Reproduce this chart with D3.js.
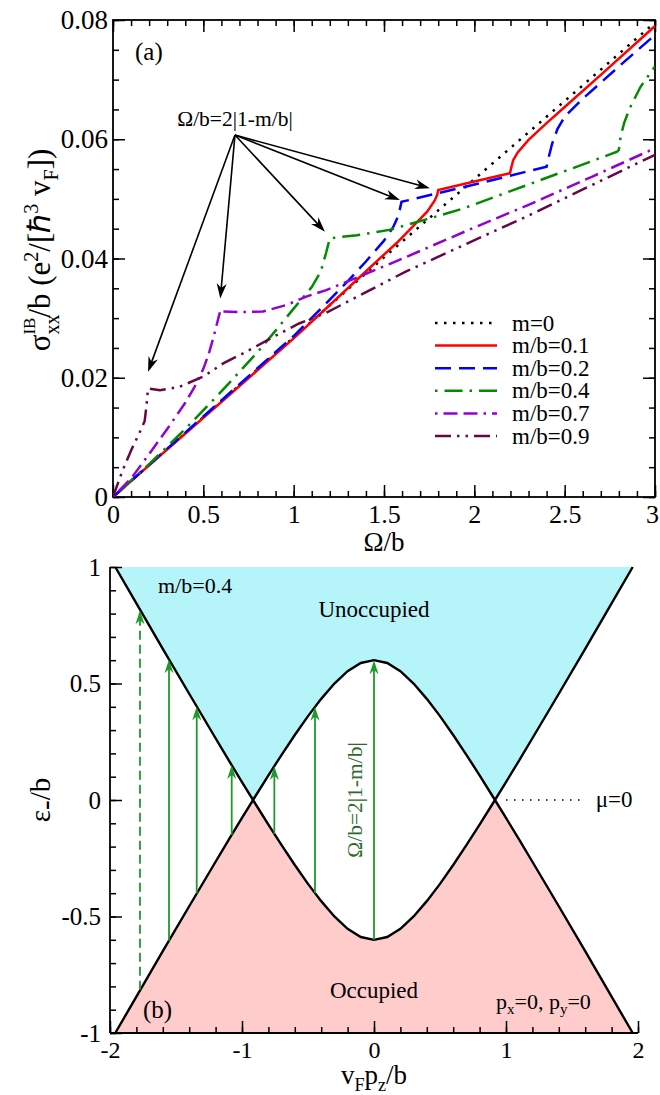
<!DOCTYPE html>
<html>
<head>
<meta charset="utf-8">
<script src="https://cdn.jsdelivr.net/npm/d3@7"></script>
<style>
body { margin: 0; background: #fff; }
svg text { font-family: "Liberation Serif", "Times New Roman", serif; fill: #000; }
</style>
</head>
<body>
<svg id="fig" width="660" height="1095"></svg>
<script>

// ---------- panel (a): sigma_xx^IB/b vs Omega/b, pairs [Omega/b, sigma] ----------
var labels_a = ["m=0", "m/b=0.1", "m/b=0.2", "m/b=0.4", "m/b=0.7", "m/b=0.9"];

var sig_m00 = [[0,0],[0.5,0.0134],[1,0.0268],[1.5,0.0402],[2,0.0533],[2.5,0.0664],[3,0.0796]];
var sig_m01 = [[0,0],[0.5,0.0133],[1,0.0266],[1.2,0.0322],[1.42,0.0384],[1.48,0.0401],[1.57,0.0426],
               [1.66,0.0454],[1.74,0.0479],[1.78,0.0497],[1.795,0.0507],[1.8,0.0515],[2.0,0.0529],
               [2.197,0.0543],[2.205,0.0553],[2.215,0.0565],[2.24,0.0578],[2.3,0.0599],[2.4,0.0627],
               [2.5,0.0654],[2.7,0.0708],[3,0.0790]];
var sig_m02 = [[0,0],[0.5,0.0135],[1,0.0270],[1.2,0.0331],[1.3,0.0362],[1.4,0.0395],[1.5,0.0430],
               [1.55,0.0452],[1.58,0.0472],[1.597,0.0495],[2.0,0.0524],[2.4,0.0554],[2.41,0.0568],
               [2.43,0.0592],[2.46,0.0617],[2.5,0.0638],[2.6,0.0668],[2.8,0.0722],[3,0.0775]];
var sig_m04 = [[0,0],[0.2,0.0055],[0.4,0.0114],[0.6,0.0177],[0.8,0.0243],[0.9,0.0279],[1.0,0.0316],
               [1.1,0.0352],[1.15,0.0378],[1.18,0.0410],[1.2,0.0434],[1.35,0.0439],[1.53,0.0448],
               [1.75,0.0467],[1.94,0.0484],[2.29,0.0523],[2.79,0.0579],[2.8,0.0582],[2.81,0.0605],
               [2.83,0.0628],[2.86,0.0652],[2.92,0.0688],[3,0.0722]];
var sig_m07 = [[0,0],[0.1,0.0031],[0.2,0.0072],[0.3,0.0114],[0.4,0.0158],[0.45,0.0184],[0.5,0.0215],
               [0.53,0.0240],[0.56,0.0272],[0.58,0.0296],[0.595,0.0314],[0.61,0.0311],[0.7,0.0310],
               [0.83,0.0311],[0.96,0.0322],[1.07,0.0336],[1.18,0.0347],[1.55,0.0393],[2.0,0.0452],
               [2.3,0.0490],[2.65,0.0537],[3,0.0585]];
var sig_m09 = [[0,0],[0.05,0.0042],[0.1,0.0078],[0.15,0.0110],[0.175,0.0127],[0.185,0.0152],
               [0.194,0.0182],[0.26,0.0179],[0.37,0.0185],[0.5,0.0202],[0.61,0.0224],[0.74,0.0244],
               [0.89,0.0269],[1.03,0.0291],[1.18,0.0309],[1.62,0.0378],[2.3,0.0472],[3,0.0574]];

var series_a = [sig_m00, sig_m01, sig_m02, sig_m04, sig_m07, sig_m09];

var xticks_a = [0, 0.5, 1, 1.5, 2, 2.5, 3];
var yticks_a = [0, 0.02, 0.04, 0.06, 0.08];

// annotation arrows of panel (a): common start, tips near each kink
var ann_text_a = "\u03a9/b=2|1-m/b|";
var ann_from_a = [0.675, 0.0607];
var ann_tips_a = [[0.194,0.0210],[0.594,0.0333],[1.173,0.0445],[1.588,0.0498],[1.754,0.0518]];

// ---------- panel (b): band edges for m/b=0.4, px=py=0 ----------
var pz_band  = [-1.96,-1.8,-1.6,-1.4,-1.2,-1.1,-1.0,-0.9165,-0.9,-0.8,-0.7,-0.6,-0.5,-0.4,-0.3,-0.2,-0.1,0,
                0.1,0.2,0.3,0.4,0.5,0.6,0.7,0.8,0.9,0.9165,1.0,1.1,1.2,1.4,1.6,1.8,1.96];
var eps_band = [1.0,0.844,0.649,0.456,0.265,0.170,0.077,0,0.015,0.106,0.194,0.279,0.360,0.434,0.5,0.553,0.588,0.6,
                0.588,0.553,0.5,0.434,0.360,0.279,0.194,0.106,0.015,0,0.077,0.170,0.265,0.456,0.649,0.844,1.0];

// vertical transitions: pz and |eps| reached at the upper band
var pz_trans  = [-1.773, -1.553, -1.343, -1.078, -0.755, -0.447, 0];
var eps_trans = [0.814, 0.604, 0.401, 0.150, 0.146, 0.400, 0.600];

var xticks_b = [-2, -1, 0, 1, 2];
var yticks_b = [-1, -0.5, 0, 0.5, 1];
var mu_line = [1.0, 1.6];

// ---------- styles ----------
var colors_a = ["#000000", "#ff0000", "#0000ff", "#008b00", "#9400d3", "#670748"];
var dashes_a = ["2.5,6.5", null, "16,8", "2.5,7,18,7", "2.5,6,14,6,14,6", "16,6,2.5,6,2.5,6"];
var green_b = "#1f9a2a";
var dashed_trans = [true, false, false, false, false, false, false];

var FONT = '"Liberation Serif","Times New Roman",serif';
var svg = d3.select("#fig");

function styleAxis(g, fs){
    g.select(".domain").remove();
    g.attr("font-family", null).attr("font-size", null);
    g.selectAll("line").attr("stroke", "#000").attr("stroke-width", 1.5);
    g.selectAll("text").style("font-size", fs + "px").attr("fill", "#000");
}

function arrowHead(g, x1, y1, x2, y2, len, wid, color){
    var ang = Math.atan2(y2 - y1, x2 - x1) * 180 / Math.PI;
    g.append("path")
        .attr("d", "M0,0 L" + (-len) + "," + (-wid/2) + " L" + (-len*0.7) + ",0 L" + (-len) + "," + (wid/2) + " Z")
        .attr("fill", color)
        .attr("transform", "translate(" + x2 + "," + y2 + ") rotate(" + ang + ")");
}

// =================== panel (a) ===================
var xA = d3.scaleLinear().domain([0, 3]).range([113, 655]);
var yA = d3.scaleLinear().domain([0, 0.08]).range([497, 20]);

svg.append("clipPath").attr("id", "clipA").append("rect")
    .attr("x", 113).attr("y", 20).attr("width", 542).attr("height", 477);

var gA = svg.append("g");
var minorXa = d3.range(0, 30.5, 1).map(function(d){ return d / 10; });
var minorYa = d3.range(0, 16.5, 1).map(function(d){ return d * 0.005; });

gA.append("g").attr("transform", "translate(0," + yA(0) + ")")
    .call(d3.axisBottom(xA).tickValues(minorXa).tickSize(-6).tickFormat(""))
    .call(function(g){ styleAxis(g, 26); });
gA.append("g").attr("transform", "translate(0," + yA(0) + ")")
    .call(d3.axisBottom(xA).tickValues(xticks_a).tickSize(-12).tickPadding(8).tickFormat(function(d){ return String(d); }))
    .call(function(g){
        styleAxis(g, 26);
        // last label sits on the page edge; nudge it in a little
        g.selectAll("text").filter(function(d){ return d === 3; }).attr("dx", -3);
    });
gA.append("g").attr("transform", "translate(0," + yA(0.08) + ")")
    .call(d3.axisTop(xA).tickValues(minorXa).tickSize(-6).tickFormat(""))
    .call(function(g){ styleAxis(g, 26); });
gA.append("g").attr("transform", "translate(0," + yA(0.08) + ")")
    .call(d3.axisTop(xA).tickValues(xticks_a).tickSize(-12).tickFormat(""))
    .call(function(g){ styleAxis(g, 26); });

gA.append("g").attr("transform", "translate(" + xA(0) + ",0)")
    .call(d3.axisLeft(yA).tickValues(minorYa).tickSize(-6).tickFormat(""))
    .call(function(g){ styleAxis(g, 26); });
gA.append("g").attr("transform", "translate(" + xA(0) + ",0)")
    .call(d3.axisLeft(yA).tickValues(yticks_a).tickSize(-12).tickPadding(5).tickFormat(function(d){ return String(d); }))
    .call(function(g){ styleAxis(g, 27); });
gA.append("g").attr("transform", "translate(" + xA(3) + ",0)")
    .call(d3.axisRight(yA).tickValues(minorYa).tickSize(-6).tickFormat(""))
    .call(function(g){ styleAxis(g, 26); });
gA.append("g").attr("transform", "translate(" + xA(3) + ",0)")
    .call(d3.axisRight(yA).tickValues(yticks_a).tickSize(-12).tickFormat(""))
    .call(function(g){ styleAxis(g, 26); });

gA.append("rect")
    .attr("x", xA(0)).attr("y", yA(0.08))
    .attr("width", xA(3) - xA(0)).attr("height", yA(0) - yA(0.08))
    .attr("fill", "none").attr("stroke", "#000").attr("stroke-width", 1.8);

var lineA = d3.line().x(function(d){ return xA(d[0]); }).y(function(d){ return yA(d[1]); });
var curvesA = gA.append("g").attr("clip-path", "url(#clipA)");
series_a.forEach(function(s, i){
    curvesA.append("path")
        .attr("d", lineA(s))
        .attr("fill", "none")
        .attr("stroke", colors_a[i])
        .attr("stroke-width", 2.5)
        .attr("stroke-dasharray", dashes_a[i]);
});

// legend
var leg = gA.append("g");
labels_a.forEach(function(lab, i){
    var y = 323 + i * 22.6;
    leg.append("line").attr("x1", 435).attr("x2", 497).attr("y1", y).attr("y2", y)
        .attr("stroke", colors_a[i]).attr("stroke-width", 2.5).attr("stroke-dasharray", dashes_a[i]);
    leg.append("text").attr("x", 512).attr("y", y).attr("dy", "0.33em")
        .style("font-size", "23px").text(lab);
});

// annotation arrows
var ann = gA.append("g");
var ax0 = xA(ann_from_a[0]), ay0 = yA(ann_from_a[1]);
ann_tips_a.forEach(function(t){
    var x2 = xA(t[0]), y2 = yA(t[1]);
    var dx = x2 - ax0, dy = y2 - ay0, L = Math.sqrt(dx*dx + dy*dy);
    var back = 10;
    ann.append("line").attr("x1", ax0).attr("y1", ay0)
        .attr("x2", x2 - dx / L * back).attr("y2", y2 - dy / L * back)
        .attr("stroke", "#000").attr("stroke-width", 1.6);
    arrowHead(ann, ax0, ay0, x2, y2, 15, 10, "#000");
});
ann.append("text").attr("x", ax0).attr("y", ay0 - 9).attr("text-anchor", "middle")
    .style("font-size", "21.5px").text(ann_text_a);

gA.append("text").attr("x", 135).attr("y", 60).style("font-size", "25px").text("(a)");

// axis titles (a)
gA.append("text").attr("x", xA(1.5)).attr("y", 551).attr("text-anchor", "middle")
    .style("font-size", "27px").text("\u03a9/b");

var yl = gA.append("text").attr("text-anchor", "middle")
    .attr("transform", "translate(50,250) rotate(-90)")
    .style("font-size", "31px");
yl.append("tspan").text("\u03c3");
yl.append("tspan").attr("dy", 9).style("font-size", "20px").text("xx");
yl.append("tspan").attr("dx", -20).attr("dy", -24).style("font-size", "17px").text("IB");
yl.append("tspan").attr("dy", 15).text("/b (e");
yl.append("tspan").attr("dy", -12).style("font-size", "20px").text("2");
yl.append("tspan").attr("dy", 12).text("/[\u210f");
yl.append("tspan").attr("dy", -12).style("font-size", "20px").text("3");
yl.append("tspan").attr("dy", 12).text(" v");
yl.append("tspan").attr("dy", 8).style("font-size", "20px").text("F");
yl.append("tspan").attr("dy", -8).text("])");

// =================== panel (b) ===================
var xB = d3.scaleLinear().domain([-2, 2]).range([110, 638]);
var yB = d3.scaleLinear().domain([-1, 1]).range([1033, 567]);
var gB = svg.append("g");

var band = pz_band.map(function(p, i){ return [p, eps_band[i]]; });

gB.append("path")
    .attr("d", d3.area().x(function(d){ return xB(d[0]); })
        .y0(yB(1)).y1(function(d){ return yB(d[1]); })(band))
    .attr("fill", "#b5f5fa");
gB.append("path")
    .attr("d", d3.area().x(function(d){ return xB(d[0]); })
        .y0(yB(-1)).y1(function(d){ return yB(-d[1]); })(band))
    .attr("fill", "#ffcccc");

var lineUp = d3.line().x(function(d){ return xB(d[0]); }).y(function(d){ return yB(d[1]); });
var lineDn = d3.line().x(function(d){ return xB(d[0]); }).y(function(d){ return yB(-d[1]); });
gB.append("path").attr("d", lineUp(band)).attr("fill", "none").attr("stroke", "#000").attr("stroke-width", 2.4);
gB.append("path").attr("d", lineDn(band)).attr("fill", "none").attr("stroke", "#000").attr("stroke-width", 2.4);

// transitions
pz_trans.forEach(function(p, i){
    var x = xB(p), y1 = yB(-eps_trans[i]), y2 = yB(eps_trans[i]);
    gB.append("line").attr("x1", x).attr("x2", x).attr("y1", y1).attr("y2", y2 + 8)
        .attr("stroke", green_b).attr("stroke-width", 1.8)
        .attr("stroke-dasharray", dashed_trans[i] ? "9,5" : null);
    arrowHead(gB, x, y1, x, y2, 14, 9, green_b);
});

gB.append("text")
    .attr("transform", "translate(" + (xB(0) - 12) + "," + yB(0) + ") rotate(-90)")
    .attr("text-anchor", "middle")
    .style("fill", "#2d6a2d")
    .style("font-size", "21.5px").text("\u03a9/b=2|1-m/b|");

// mu = 0 dotted line
gB.append("line").attr("x1", xB(mu_line[0])).attr("x2", xB(mu_line[1]))
    .attr("y1", yB(0)).attr("y2", yB(0))
    .attr("stroke", "#000").attr("stroke-width", 1.5).attr("stroke-dasharray", "1.5,6.5");
gB.append("text").attr("x", xB(1.68)).attr("y", yB(0)).attr("dy", "0.3em")
    .style("font-size", "23px").text("\u03bc=0");

// axes (b)
var minorXb = d3.range(-20, 20.5, 2).map(function(d){ return d / 10; });
var minorYb = d3.range(-10, 10.5, 1).map(function(d){ return d / 10; });
gB.append("g").attr("transform", "translate(0," + yB(-1) + ")")
    .call(d3.axisBottom(xB).tickValues(minorXb).tickSize(-6).tickFormat(""))
    .call(function(g){ styleAxis(g, 24); });
gB.append("g").attr("transform", "translate(0," + yB(-1) + ")")
    .call(d3.axisBottom(xB).tickValues(xticks_b).tickSize(-12).tickPadding(8).tickFormat(function(d){ return String(d); }))
    .call(function(g){ styleAxis(g, 24); });
gB.append("g").attr("transform", "translate(" + xB(-2) + ",0)")
    .call(d3.axisLeft(yB).tickValues(minorYb).tickSize(-6).tickFormat(""))
    .call(function(g){ styleAxis(g, 25); });
gB.append("g").attr("transform", "translate(" + xB(-2) + ",0)")
    .call(d3.axisLeft(yB).tickValues(yticks_b).tickSize(-12).tickPadding(9).tickFormat(function(d){ return String(d); }))
    .call(function(g){ styleAxis(g, 25); });
gB.append("line").attr("x1", xB(-2)).attr("x2", xB(2)).attr("y1", yB(-1)).attr("y2", yB(-1))
    .attr("stroke", "#000").attr("stroke-width", 1.8);
gB.append("line").attr("x1", xB(-2)).attr("x2", xB(-2)).attr("y1", yB(-1)).attr("y2", yB(1))
    .attr("stroke", "#000").attr("stroke-width", 1.8);

// labels (b)
gB.append("text").attr("x", 158).attr("y", 593).style("font-size", "22px").text("m/b=0.4");
gB.append("text").attr("x", xB(0)).attr("y", 617).attr("text-anchor", "middle").style("font-size", "23px").text("Unoccupied");
gB.append("text").attr("x", xB(0)).attr("y", 998).attr("text-anchor", "middle").style("font-size", "23px").text("Occupied");
gB.append("text").attr("x", 143).attr("y", 1018).style("font-size", "25px").text("(b)");

var pxy = gB.append("text").attr("x", 496).attr("y", 1009).style("font-size", "22px");
pxy.append("tspan").text("p");
pxy.append("tspan").attr("dy", 5).style("font-size", "15px").text("x");
pxy.append("tspan").attr("dy", -5).text("=0, p");
pxy.append("tspan").attr("dy", 5).style("font-size", "15px").text("y");
pxy.append("tspan").attr("dy", -5).text("=0");

var xl = gB.append("text").attr("x", xB(0)).attr("y", 1084).attr("text-anchor", "middle").style("font-size", "27px");
xl.append("tspan").text("v");
xl.append("tspan").attr("dy", 7).style("font-size", "18px").text("F");
xl.append("tspan").attr("dy", -7).text("p");
xl.append("tspan").attr("dy", 7).style("font-size", "18px").text("z");
xl.append("tspan").attr("dy", -7).text("/b");

var el = gB.append("text").attr("text-anchor", "middle")
    .attr("transform", "translate(50," + yB(0) + ") rotate(-90)").style("font-size", "29px");
el.append("tspan").text("\u03b5");
el.append("tspan").attr("dy", 5).text("-");
el.append("tspan").attr("dy", -5).text("/b");

// one font everywhere
svg.selectAll("text").style("font-family", FONT);

</script>
</body>
</html>
